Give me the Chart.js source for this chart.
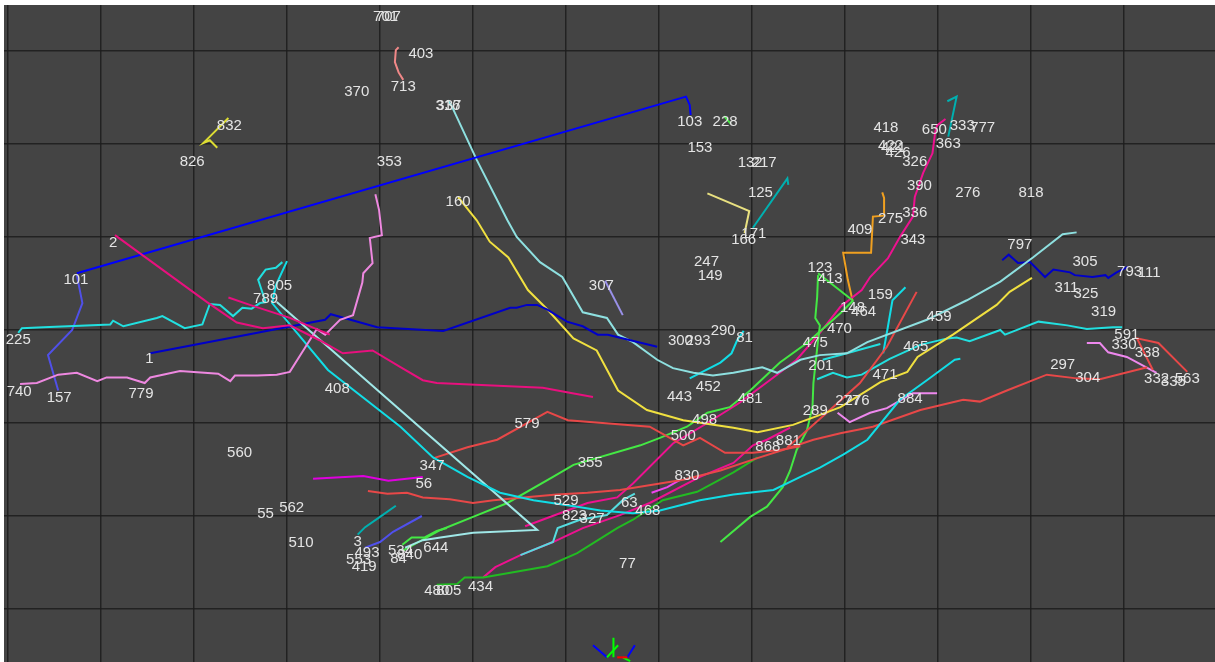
<!DOCTYPE html>
<html lang="en">
<head>
  <meta charset="UTF-8" />
  <title>Tracked objects</title>
  <script src="https://cdn.jsdelivr.net/npm/chart.js"></script>
  <style>
    html, body { margin: 0; padding: 0; background: #ffffff; }
    #wrap { width: 1215px; height: 662px; }
  </style>
</head>
<body>
  <div id="wrap"><canvas id="tracks"></canvas></div>

  <script>
    // Track positions in metres, [x, y] per sample
    const track103 = [[0.74,3.61],[7.29,5.51],[7.33,5.42],[7.34,5.31]];
    const track157 = [[0.74,3.59],[0.80,3.29],[0.69,3.00],[0.43,2.73],[0.54,2.35]];
    const track225 = [[0.11,2.97],[0.15,3.02],[0.38,3.03],[1.10,3.06],[1.13,3.10],[1.24,3.04],[1.60,3.13],[1.66,3.15],[1.90,3.02],[2.09,3.06],[2.17,3.28],[2.28,3.27],[2.42,3.15],[2.52,3.24],[2.62,3.23],[2.71,3.29],[2.77,3.30],[2.69,3.54],[2.77,3.65],[2.88,3.67],[2.95,3.73]];
    const track408 = [[3.00,3.74],[2.88,3.48],[2.84,3.29],[3.44,2.57],[4.22,1.96],[4.57,1.63],[4.94,1.42],[5.29,1.25],[5.65,1.17],[6.12,1.10],[6.37,1.06],[6.72,1.03],[7.01,1.06],[7.44,1.17],[7.80,1.23],[8.23,1.28],[8.52,1.42],[8.73,1.52],[8.98,1.66],[9.24,1.82],[9.59,2.25],[9.88,2.46],[10.18,2.68],[10.24,2.69]];
    const track644 = [[2.89,3.30],[5.69,0.85],[5.00,0.82],[4.65,0.77],[4.46,0.74],[4.27,0.66]];
    const track63 = [[5.51,0.58],[5.86,0.72],[5.91,0.87],[6.15,0.96],[6.44,1.01],[6.61,1.17],[6.74,1.24]];
    const track2 = [[1.15,4.02],[2.14,3.30],[2.46,3.08],[2.74,3.02],[3.03,3.05],[3.35,2.89],[3.60,2.75],[3.92,2.78],[4.22,2.60],[4.46,2.46],[4.61,2.43],[5.75,2.38],[6.01,2.33],[6.29,2.28]];
    const track789 = [[2.37,3.35],[2.60,3.27],[3.03,3.13],[3.46,2.95]];
    const track1 = [[1.53,2.75],[3.41,3.11],[3.47,3.17],[3.97,3.03],[4.68,2.99],[5.40,3.24],[5.47,3.24],[5.58,3.27],[5.69,3.27],[5.80,3.22],[6.01,3.09],[6.18,3.04],[6.34,2.95],[6.45,2.95],[6.98,2.82]];
    const track779 = [[0.13,2.42],[0.31,2.43],[0.54,2.52],[0.74,2.54],[0.96,2.45],[1.06,2.49],[1.28,2.49],[1.47,2.43],[1.53,2.49],[1.85,2.56],[2.26,2.53],[2.39,2.45],[2.44,2.51],[2.68,2.51],[2.89,2.52],[3.03,2.55],[3.32,3.01],[3.41,2.95],[3.57,3.11],[3.71,3.16],[3.81,3.51],[3.82,3.61],[3.92,3.72],[3.89,3.99],[4.02,4.02],[3.99,4.29],[3.95,4.46]];
    const track713 = [[4.20,6.04],[4.17,6.01],[4.16,5.88],[4.20,5.77],[4.25,5.69]];
    const track316 = [[4.73,5.47],[4.77,5.41],[5.04,4.83],[5.37,4.18],[5.47,4.00],[5.72,3.73],[5.96,3.57],[6.18,3.19],[6.44,3.13],[6.56,2.95],[6.72,2.87],[6.98,2.68],[7.15,2.59],[7.37,2.54],[7.58,2.51],[7.80,2.54],[8.11,2.60],[8.27,2.54],[8.52,2.68],[8.73,2.73],[9.02,2.75],[9.24,2.87],[9.88,3.11],[10.31,3.32],[10.67,3.52],[11.02,3.78],[11.34,4.03],[11.49,4.05]];
    const track160 = [[4.84,4.43],[5.04,4.18],[5.18,3.95],[5.38,3.78],[5.59,3.43],[5.80,3.22],[6.08,2.91],[6.33,2.78],[6.56,2.35],[6.87,2.14],[7.26,2.03],[7.80,1.95],[8.06,1.90],[8.44,1.98],[8.66,2.06],[8.95,2.17],[9.24,2.35],[9.38,2.44],[9.67,2.55],[9.78,2.71],[10.16,2.95],[10.63,3.27],[10.77,3.41],[11.01,3.56]];
    const track307 = [[6.42,3.53],[6.61,3.16]];
    const track81 = [[7.91,2.99],[7.84,2.89],[7.78,2.75],[7.66,2.65],[7.33,2.48]];
    const track355 = [[4.25,0.63],[4.65,0.85],[5.00,0.99],[5.37,1.14],[5.86,1.42],[6.08,1.55],[6.80,1.76],[7.01,1.84],[7.30,1.96],[7.52,2.11],[7.76,2.17],[7.98,2.35],[8.30,2.65],[8.59,2.86],[8.95,3.18],[9.09,3.32]];
    const track413 = [[8.71,3.61],[9.08,3.32]];
    const track123 = [[8.71,3.59],[8.70,3.35],[8.68,3.13],[8.73,3.05],[8.71,2.89],[8.66,2.43],[8.65,2.17],[8.59,1.92],[8.48,1.71],[8.41,1.49],[8.33,1.31],[8.16,1.10],[7.98,0.99],[7.66,0.72]];
    const track434g = [[4.61,0.26],[4.83,0.27],[4.91,0.34],[5.11,0.34],[5.80,0.46],[6.12,0.60],[6.55,0.87],[6.72,0.96],[7.04,1.17],[7.41,1.26],[7.80,1.47],[8.06,1.63]];
    const track840 = [[4.24,0.69],[4.34,0.77],[4.48,0.77],[4.61,0.84],[4.72,0.87]];
    const track228 = [[7.70,5.30],[7.77,5.22]];
    const track650 = [[10.08,5.27],[9.99,5.20],[9.97,5.13],[9.94,4.90],[9.84,4.69],[9.75,4.43],[9.73,4.22],[9.59,4.00],[9.46,3.77],[9.27,3.57],[9.18,3.43],[8.95,3.25],[8.73,2.97],[8.48,2.68],[8.23,2.49],[7.87,2.22],[7.52,2.00],[7.15,1.78],[6.72,1.35],[6.55,1.20],[6.23,1.14],[5.56,0.89]];
    const track434m = [[5.11,0.34],[5.24,0.45],[5.51,0.58],[5.86,0.72],[6.18,0.87],[6.58,1.01],[6.90,1.14],[7.44,1.42],[7.80,1.57],[8.01,1.76],[8.16,1.82],[8.41,1.95]];
    const track56 = [[3.28,1.40],[3.82,1.43],[4.09,1.38],[4.46,1.42]];
    const track830 = [[6.92,1.25],[7.09,1.31],[7.23,1.39]];
    const track493 = [[3.84,0.66],[4.00,0.72],[4.14,0.83],[4.45,1.00]];
    const track3 = [[3.76,0.80],[3.84,0.88],[4.00,0.99],[4.17,1.11]];
    const track125 = [[8.01,4.10],[8.38,4.63],[8.39,4.56]];
    const track363 = [[10.11,5.08],[10.20,5.51],[10.10,5.46]];
    const track166 = [[7.52,4.47],[7.97,4.28],[7.92,4.04]];
    const track832 = [[2.37,5.28],[2.17,5.08],[2.10,5.01],[2.17,5.04],[2.25,4.96]];
    const track409 = [[9.40,4.48],[9.42,4.42],[9.42,4.23],[9.30,4.22],[9.28,3.83],[8.98,3.83],[9.03,3.54],[9.08,3.32]];
    const track159 = [[9.65,3.46],[9.51,3.32],[9.46,3.03],[9.41,2.75]];
    const track591 = [[8.70,2.47],[8.87,2.54],[9.02,2.49],[9.18,2.52],[9.48,2.69],[9.81,2.84],[10.10,2.91],[10.20,2.92],[10.34,2.88],[10.67,3.00],[10.72,2.95],[11.08,3.09],[11.39,3.05],[11.60,3.01],[11.88,3.03],[11.98,3.03]];
    const track475 = [[8.76,2.68],[9.02,2.75],[9.38,2.85]];
    const track579 = [[4.57,1.62],[4.94,1.74],[5.26,1.82],[5.80,2.12],[6.02,2.03],[6.90,1.96],[7.26,1.76],[7.44,1.84],[7.71,1.68],[8.01,1.68],[8.30,1.71],[8.52,1.75]];
    const track529 = [[3.87,1.27],[4.08,1.24],[4.29,1.25],[4.46,1.20],[4.75,1.18],[5.00,1.14],[5.22,1.17],[5.54,1.20],[5.90,1.23],[6.23,1.25],[6.58,1.28],[7.01,1.35],[7.26,1.39],[7.66,1.49],[8.05,1.62],[8.33,1.71],[8.66,1.82],[8.95,1.89],[9.30,1.96],[9.81,2.14],[10.27,2.25],[10.45,2.23],[10.74,2.35],[11.17,2.52],[11.49,2.48],[11.74,2.47],[12.25,2.60]];
    const track289 = [[8.38,1.74],[8.59,1.92],[8.87,2.17],[9.16,2.43],[9.45,2.82],[9.77,3.41]];
    const track563 = [[12.31,2.57],[12.14,2.91],[12.37,2.86],[12.68,2.55]];
    const track884 = [[8.92,2.11],[9.05,2.01],[9.27,2.11],[9.45,2.16],[9.73,2.32],[9.99,2.32]];
    const track330 = [[11.60,2.86],[11.74,2.86],[11.83,2.76],[12.03,2.71],[12.35,2.54]];
    const track797 = [[10.69,3.75],[10.76,3.81],[10.86,3.72],[10.99,3.73],[11.15,3.57],[11.24,3.65],[11.42,3.62],[11.47,3.59],[11.66,3.57],[11.80,3.59],[11.83,3.56],[11.92,3.62],[12.04,3.68]];

    // Frame axes glyph at the origin marker
    const axisRed = [[6.55,-0.52],[6.66,-0.52]];
    const axisGreenA = [[6.51,-0.31],[6.51,-0.52]];
    const axisGreenB = [[6.44,-0.52],[6.56,-0.39]];
    const axisGreenC = [[6.61,-0.52],[6.69,-0.56]];
    const axisBlueA = [[6.29,-0.39],[6.44,-0.52]];
    const axisBlueB = [[6.74,-0.39],[6.66,-0.52]];

    // Track id labels
    const labelText = ['701','707','403','370','713','316','337','832','826','353','103','228','153','132','217','418','650','333','777','363','422','421','426','326','125','390','276','818','160','275','336','409','171','166','343','2','797','247','305','123','413','149','793','111','101','805','307','311','325','159','789','148','464','319','459','290','81','470','591','300','293','225','475','330','465','338','1','201','297','471','304','332','335','563','452','740','779','157','408','481','277','276','884','443','289','498','579','500','868','881','560','355','347','830','56','529','63','468','562','55','823','327','510','3','644','534','84','840','493','553','419','77','480','805','434'];
    const labelX = [4.06,4.09,4.44,3.75,4.25,4.73,4.74,2.38,1.98,4.10,7.33,7.71,7.44,7.98,8.13,9.44,9.96,10.26,10.48,10.11,9.49,9.52,9.57,9.75,8.09,9.80,10.32,11.00,4.84,9.49,9.75,9.16,8.02,7.91,9.73,1.13,10.88,7.51,11.58,8.73,8.84,7.55,12.06,12.27,0.73,2.92,6.38,11.38,11.59,9.38,2.77,9.08,9.20,11.78,10.01,7.69,7.92,8.94,12.03,7.23,7.42,0.11,8.68,12.00,9.76,12.25,1.52,8.74,11.34,9.43,11.61,12.35,12.53,12.68,7.53,0.12,1.43,0.55,3.54,7.98,9.03,9.13,9.70,7.22,8.68,7.49,5.58,7.26,8.17,8.39,2.49,6.26,4.56,7.30,4.47,6.00,6.68,6.88,3.05,2.77,6.09,6.28,3.15,3.76,4.60,4.22,4.20,4.32,3.86,3.77,3.83,6.66,4.61,4.74,5.08];
    const labelY = [6.37,6.37,5.97,5.56,5.61,5.41,5.41,5.20,4.81,4.81,5.24,5.24,4.96,4.80,4.80,5.17,5.15,5.19,5.17,5.00,4.98,4.96,4.90,4.81,4.48,4.55,4.47,4.47,4.38,4.19,4.26,4.08,4.03,3.97,3.97,3.94,3.92,3.73,3.73,3.67,3.55,3.58,3.62,3.61,3.54,3.47,3.47,3.45,3.39,3.38,3.34,3.24,3.20,3.20,3.14,2.99,2.92,3.01,2.95,2.88,2.88,2.89,2.86,2.84,2.82,2.75,2.69,2.61,2.62,2.52,2.49,2.48,2.44,2.48,2.39,2.34,2.31,2.27,2.37,2.26,2.24,2.24,2.26,2.28,2.13,2.03,1.99,1.86,1.74,1.81,1.68,1.57,1.54,1.43,1.35,1.16,1.14,1.06,1.09,1.02,1.00,0.97,0.71,0.72,0.66,0.62,0.54,0.58,0.60,0.53,0.45,0.48,0.19,0.19,0.24];

    const tracks = [
      [track2, '#e8107e'], [track789, '#e81080'], [track779, '#ee88e0'], [track225, '#22e0e0'],
      [track408, '#11dde6'], [track644, '#a0e8e8'], [track63, '#55dde0'], [track157, '#5050e8'],
      [track103, '#0000ff'], [track1, '#0000c8'], [track713, '#f08888'], [track316, '#8ee0e0'],
      [track160, '#f0e040'], [track307, '#9990e8'], [track81, '#11dde6'], [track529, '#e84848'],
      [track579, '#e84848'], [track289, '#e84848'], [track563, '#e84848'], [track434g, '#22bb22'],
      [track355, '#44e844'], [track413, '#44e844'], [track123, '#44e844'], [track840, '#44e844'],
      [track228, '#44e844'], [track650, '#ee1190'], [track434m, '#ee1190'], [track56, '#e000e0'],
      [track830, '#ee44ee'], [track493, '#5050ee'], [track3, '#00b0b0'], [track125, '#00b0b0'],
      [track363, '#00b0b0'], [track166, '#e8e080'], [track832, '#dddd33'], [track409, '#f0a020'],
      [track159, '#11dde6'], [track591, '#22e0e0'], [track475, '#22e0e0'], [track884, '#ee88ee'],
      [track330, '#ee88ee'], [track797, '#0000c8'],
      [axisRed, '#ff0000'], [axisGreenA, '#00ff00'], [axisGreenB, '#00ff00'], [axisGreenC, '#00ff00'],
      [axisBlueA, '#0000ff'], [axisBlueB, '#0000ff']
    ];

    const datasets = tracks.map(([pts, color]) => ({
      data: pts.map(([x, y]) => ({ x, y })),
      showLine: true,
      borderColor: color,
      borderWidth: 2,
      pointRadius: 0,
      tension: 0,
      fill: false
    }));

    // dark floor behind the grid
    const floor = {
      id: 'floor',
      beforeDraw(chart) {
        const { ctx, chartArea: a } = chart;
        ctx.save();
        ctx.fillStyle = '#444444';
        ctx.fillRect(a.left, a.top, a.right - a.left, a.bottom - a.top);
        ctx.restore();
      }
    };

    // id text next to each track
    const idLabels = {
      id: 'idLabels',
      afterDatasetsDraw(chart) {
        const { ctx, scales } = chart;
        ctx.save();
        ctx.font = '15px "Liberation Sans", Arial, sans-serif';
        ctx.fillStyle = '#e4e4e4';
        ctx.textAlign = 'center';
        ctx.textBaseline = 'middle';
        labelText.forEach((t, i) => {
          ctx.fillText(t, scales.x.getPixelForValue(labelX[i]), scales.y.getPixelForValue(labelY[i]));
        });
        ctx.restore();
      }
    };

    const gridAxis = (min, max, count) => ({
      type: 'linear',
      min, max,
      afterBuildTicks: s => { s.ticks = Array.from({ length: count }, (_, i) => ({ value: i })); },
      ticks: { display: false },
      border: { display: false },
      grid: { color: 'rgba(28,28,28,0.85)', lineWidth: 1.5, drawTicks: false }
    });

    new Chart(document.getElementById('tracks'), {
      type: 'scatter',
      data: { datasets },
      options: {
        responsive: true,
        maintainAspectRatio: false,
        animation: false,
        layout: { padding: { left: 4, top: 5, right: 0, bottom: 0 } },
        plugins: { legend: { display: false }, tooltip: { enabled: false } },
        scales: {
          x: gridAxis(-0.043, 12.978, 13),
          y: gridAxis(-0.570, 6.495, 7)
        }
      },
      plugins: [floor, idLabels]
    });
  </script>
</body>
</html>
